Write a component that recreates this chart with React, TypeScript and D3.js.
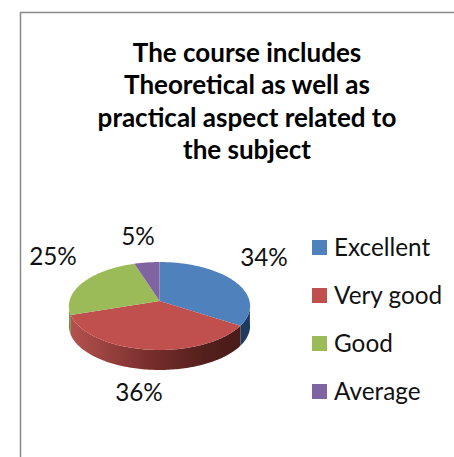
import React from "react";
import * as d3 from "d3";

const categories = ["Excellent", "Very good", "Good", "Average"];
const values = [34, 36, 25, 5];
const topColors = ["#4f81bd", "#c0504d", "#9bbb59", "#8064a2"];
const wallColors = ["#1f3a5f", "url(#redWall)", "#6d8a38", "#5d4778"];
const titleLines = ["The course includes", "Theoretical as well as", "practical aspect related to", "the subject"];
const labelPos = [[264, 266], [139, 401], [53, 265], [138, 245]];

const FONT = "Lato, Carlito, Calibri, sans-serif";
const cx = 159.5, cy = 301, B = 90, A = 43.4, k = 0.1136, depth = 20;

// perspective projection of a point on the unit disc
const proj = (a: number, r = 1, dy = 0): [number, number] => {
  const X = r * Math.sin(a), Y = r * Math.cos(a), w = 1 + k * Y;
  return [cx + (B * X) / w, cy - (A * Y) / w + dy];
};
const arcPts = (a0: number, a1: number, dy = 0) => {
  const n = Math.max(2, Math.ceil(Math.abs(a1 - a0) / 0.02));
  return d3.range(n + 1).map((i) => proj(a0 + ((a1 - a0) * i) / n, 1, dy));
};
const line = d3.line();

export default function App() {
  const arcs = d3.pie<number>().sort(null)(values);
  const legendY = d3.scalePoint<string>().domain(categories).range([247.5, 391.5]);
  const lo = Math.PI / 2 + 0.05, hi = (3 * Math.PI) / 2 - 0.05;
  return (
    <svg width={454} height={457} style={{ position: "fixed", left: 0, top: 0, background: "#fff" }} fontFamily={FONT}>
      <defs>
        <linearGradient id="redWall" gradientUnits="userSpaceOnUse" x1={70} x2={240} y1={0} y2={0}>
          <stop offset="0" stopColor="#b5524f" />
          <stop offset="0.45" stopColor="#7a2f2d" />
          <stop offset="0.8" stopColor="#521f1c" />
          <stop offset="1" stopColor="#4a1b19" />
        </linearGradient>
      </defs>
      <path d="M454,12.5H20.5V457" fill="none" stroke="#8a8a8a" strokeWidth={1.5} />
      {titleLines.map((t, i) => (
        <text key={t} x={247} y={[62, 94, 127, 159][i]} textAnchor="middle" fontSize={26} fontWeight={700} fill="#000">{t}</text>
      ))}
      {arcs.map((d, i) => {
        const a0 = Math.max(d.startAngle, lo), a1 = Math.min(d.endAngle, hi);
        if (a1 <= a0) return null;
        const pts = [...arcPts(a0, a1), ...arcPts(a1, a0, depth)];
        return <path key={i} d={line(pts as [number, number][]) + "Z"} fill={wallColors[i]} />;
      })}
      {arcs.map((d, i) => {
        const pts = [[cx, cy], ...arcPts(d.startAngle, d.endAngle)];
        return <path key={i} d={line(pts as [number, number][]) + "Z"} fill={topColors[i]} />;
      })}
      {values.map((v, i) => (
        <text key={i} x={labelPos[i][0]} y={labelPos[i][1]} textAnchor="middle" fontSize={24.3} fill="#111">{v}%</text>
      ))}
      {categories.map((c, i) => (
        <g key={c}>
          <rect x={312} y={legendY(c)! - 7.5} width={15} height={15} fill={topColors[i]} />
          <text x={334} y={legendY(c)! + 8.5} fontSize={24.3} fill="#111">{c}</text>
        </g>
      ))}
    </svg>
  );
}
